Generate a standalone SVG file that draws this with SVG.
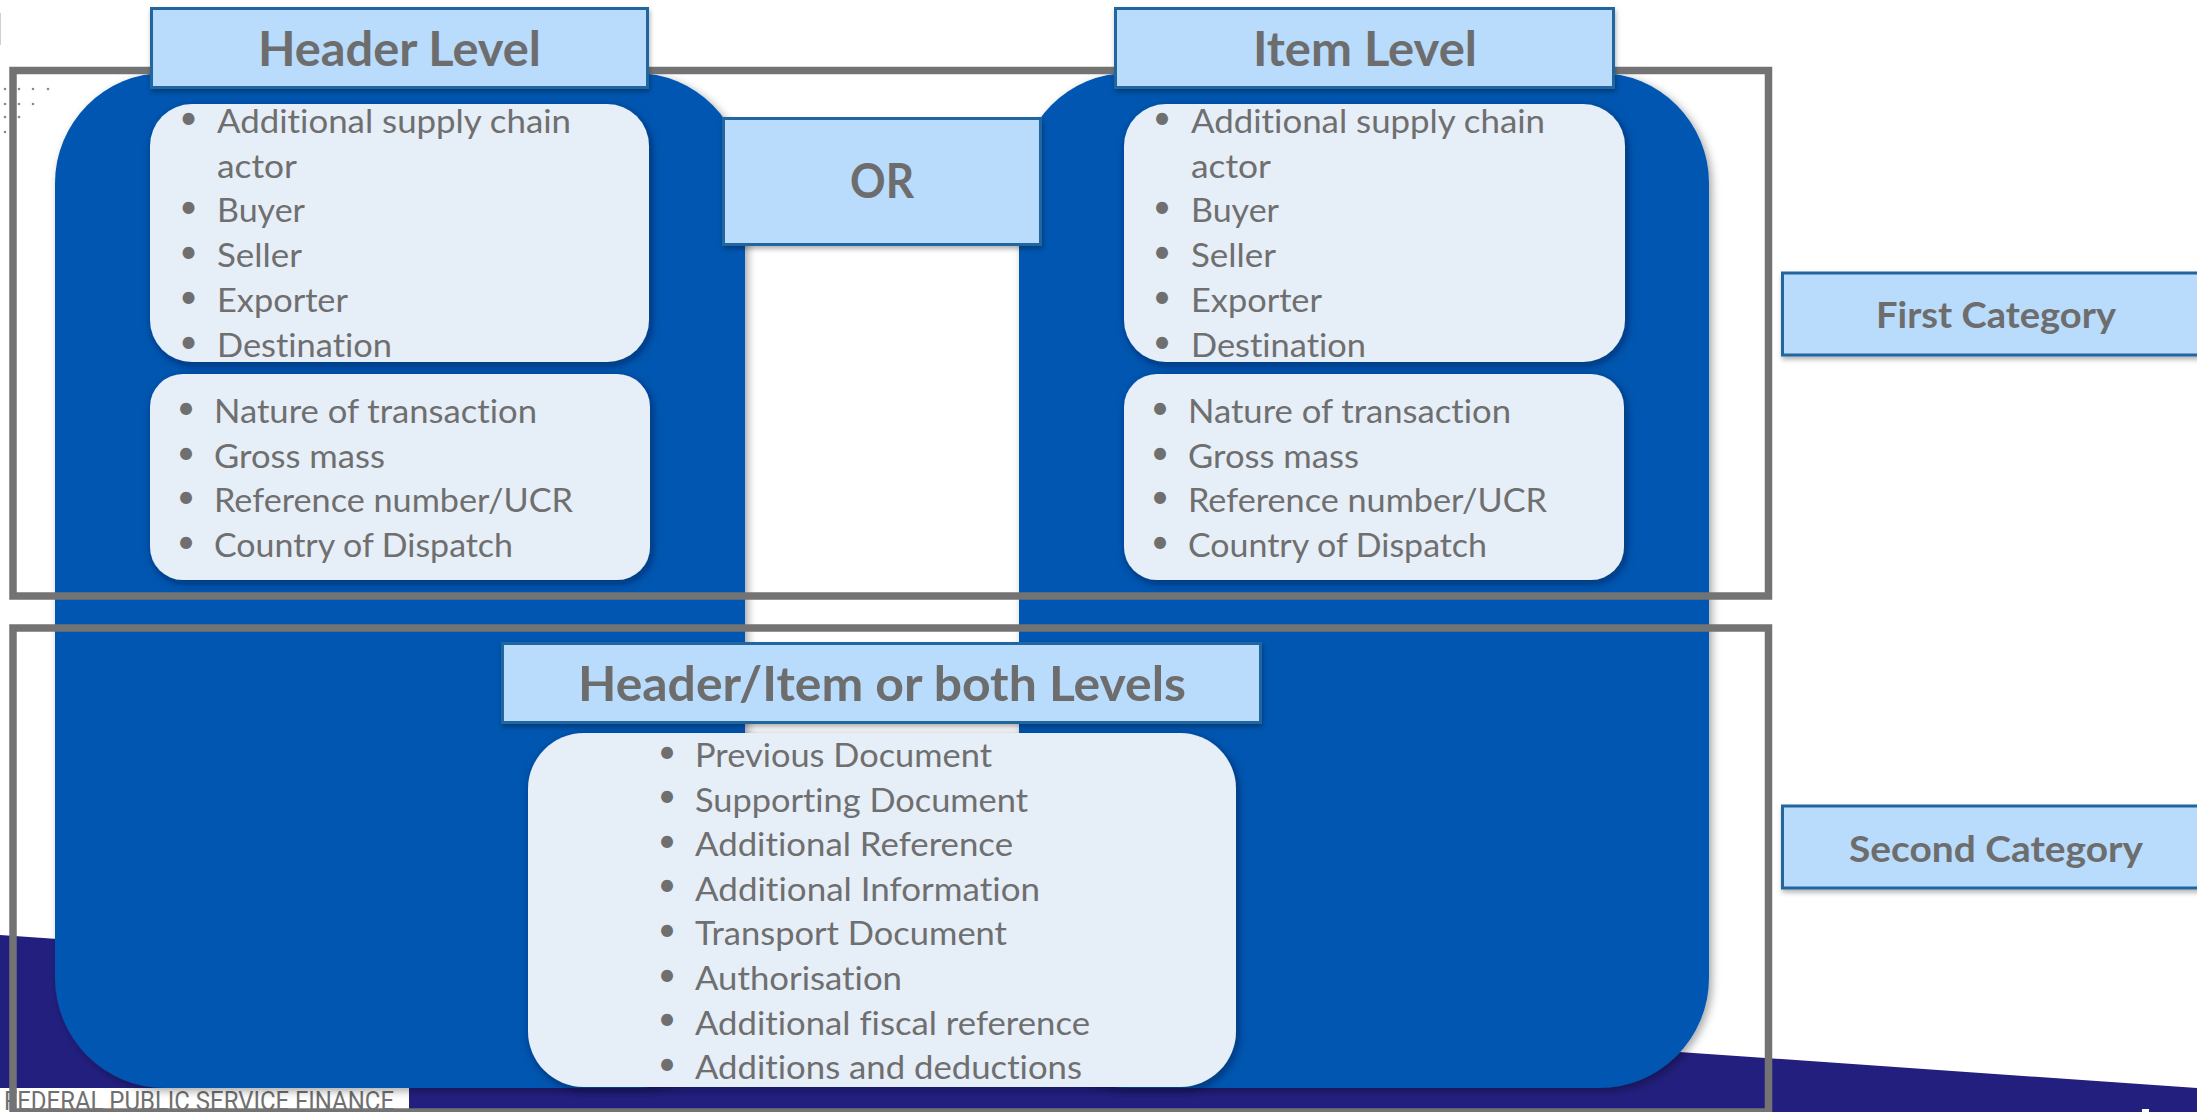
<svg xmlns="http://www.w3.org/2000/svg" width="2197" height="1112" viewBox="0 0 2197 1112">
  <style>
    text { font-variant-ligatures: none; }
    .blue { fill: #0457b0; }
    .list { fill: #e6eef8; }
    .hbox { fill: #b9dbfc; stroke: #2466a0; stroke-width: 3; }
    .frame { fill: none; stroke: #737373; stroke-width: 7.5; }
    .li { font-family: Lato, "Open Sans", sans-serif; font-size: 32px; fill: #6f6f6f; }
    .bul { font-family: Lato, "Open Sans", sans-serif; font-size: 32px; fill: #6f6f6f; text-anchor: middle; }
    .hd { font-family: Lato, "Open Sans", sans-serif; font-weight: bold; font-size: 47px; fill: #6d6d6d; text-anchor: middle; }
    .cat { font-family: Lato, "Open Sans", sans-serif; font-weight: bold; font-size: 36px; fill: #6d6d6d; text-anchor: middle; }
    .foot { font-family: Roboto, "Liberation Sans", sans-serif; font-size: 26px; fill: #707070; }
    .dot { fill: #8a8a8a; }
  </style>
  <defs>
    <filter id="shBlue" x="-5%" y="-5%" width="110%" height="110%">
      <feDropShadow dx="3" dy="3" stdDeviation="4" flood-color="#000" flood-opacity="0.35"/>
    </filter>
    <filter id="shList" x="-10%" y="-10%" width="120%" height="125%">
      <feDropShadow dx="2" dy="3" stdDeviation="4" flood-color="#00163a" flood-opacity="0.55"/>
    </filter>
    <filter id="shBox" x="-5%" y="-10%" width="110%" height="130%">
      <feDropShadow dx="1" dy="3" stdDeviation="2.5" flood-color="#000" flood-opacity="0.3"/>
    </filter>
  </defs>

  <rect x="0" y="0" width="2197" height="1112" fill="#ffffff"/>

  <!-- decorative background -->
  <g id="background">
    <line x1="0.5" y1="13" x2="0.5" y2="45" stroke="#d0d0d0" stroke-width="1"/>
    <circle class="dot" cx="5" cy="89" r="1.3"/>
    <circle class="dot" cx="19" cy="89" r="1.3"/>
    <circle class="dot" cx="33" cy="89" r="1.3"/>
    <circle class="dot" cx="48" cy="89" r="1.3"/>
    <circle class="dot" cx="5" cy="104" r="1.3"/>
    <circle class="dot" cx="19" cy="104" r="1.3"/>
    <circle class="dot" cx="33" cy="104" r="1.3"/>
    <circle class="dot" cx="5" cy="117" r="1.3"/>
    <circle class="dot" cx="19" cy="117" r="1.3"/>
    <circle class="dot" cx="5" cy="132" r="1.3"/>
    <polygon points="0,935 2197,1088 2197,1112 0,1112" fill="#231f7e"/>
    <rect x="2142" y="1109" width="7" height="3" fill="#ffffff"/>
    <rect x="0" y="1088" width="409" height="24" fill="#ffffff"/>
    <text class="foot" x="4" y="1110" textLength="390" lengthAdjust="spacingAndGlyphs">FEDERAL PUBLIC SERVICE FINANCE</text>
  </g>

  <!-- blue columns -->
  <g id="header-column">
    <rect class="blue" x="55" y="73" width="690" height="1015" rx="110" ry="110" filter="url(#shBlue)"/>
  </g>
  <g id="item-column">
    <rect class="blue" x="1019" y="73" width="690" height="1015" rx="110" ry="110" filter="url(#shBlue)"/>
  </g>

  <!-- category frames -->
  <g id="first-category-frame">
    <rect class="frame" x="13" y="70.5" width="1755.5" height="525.5"/>
  </g>
  <g id="second-category-frame">
    <rect class="frame" x="13" y="628" width="1755.5" height="484"/>
  </g>

  <!-- Header Level -->
  <g id="header-level">
    <rect class="hbox" x="151.5" y="8.5" width="496" height="79" filter="url(#shBox)"/>
    <text class="hd" x="399.5" y="66" textLength="283" lengthAdjust="spacingAndGlyphs">Header Level</text>
  </g>
  <g id="header-list-1">
    <rect class="list" x="150" y="104" width="499" height="258" rx="42" ry="42" filter="url(#shList)"/>
    <text class="bul" x="188.5" y="129">•</text>
    <text class="li" x="217" y="133" textLength="354" lengthAdjust="spacingAndGlyphs">Additional supply chain</text>
    <text class="li" x="217" y="178" textLength="80" lengthAdjust="spacingAndGlyphs">actor</text>
    <text class="bul" x="188.5" y="218">•</text>
    <text class="li" x="217" y="222" textLength="88" lengthAdjust="spacingAndGlyphs">Buyer</text>
    <text class="bul" x="188.5" y="263">•</text>
    <text class="li" x="217" y="267" textLength="85" lengthAdjust="spacingAndGlyphs">Seller</text>
    <text class="bul" x="188.5" y="308">•</text>
    <text class="li" x="217" y="312" textLength="131" lengthAdjust="spacingAndGlyphs">Exporter</text>
    <text class="bul" x="188.5" y="353">•</text>
    <text class="li" x="217" y="357" textLength="175" lengthAdjust="spacingAndGlyphs">Destination</text>
  </g>
  <g id="header-list-2">
    <rect class="list" x="150" y="374" width="500" height="206" rx="33" ry="33" filter="url(#shList)"/>
    <text class="bul" x="186" y="419">•</text>
    <text class="li" x="214" y="423" textLength="323" lengthAdjust="spacingAndGlyphs">Nature of transaction</text>
    <text class="bul" x="186" y="464">•</text>
    <text class="li" x="214" y="467.7" textLength="171" lengthAdjust="spacingAndGlyphs">Gross mass</text>
    <text class="bul" x="186" y="508">•</text>
    <text class="li" x="214" y="512.4" textLength="359" lengthAdjust="spacingAndGlyphs">Reference number/UCR</text>
    <text class="bul" x="186" y="553">•</text>
    <text class="li" x="214" y="557" textLength="299" lengthAdjust="spacingAndGlyphs">Country of Dispatch</text>
  </g>

  <!-- Item Level -->
  <g id="item-level">
    <rect class="hbox" x="1115.5" y="8.5" width="498" height="79" filter="url(#shBox)"/>
    <text class="hd" x="1365" y="66" textLength="224" lengthAdjust="spacingAndGlyphs">Item Level</text>
  </g>
  <g id="item-list-1">
    <rect class="list" x="1124" y="104" width="501" height="258" rx="42" ry="42" filter="url(#shList)"/>
    <text class="bul" x="1162" y="129">•</text>
    <text class="li" x="1191" y="133" textLength="354" lengthAdjust="spacingAndGlyphs">Additional supply chain</text>
    <text class="li" x="1191" y="178" textLength="80" lengthAdjust="spacingAndGlyphs">actor</text>
    <text class="bul" x="1162" y="218">•</text>
    <text class="li" x="1191" y="222" textLength="88" lengthAdjust="spacingAndGlyphs">Buyer</text>
    <text class="bul" x="1162" y="263">•</text>
    <text class="li" x="1191" y="267" textLength="85" lengthAdjust="spacingAndGlyphs">Seller</text>
    <text class="bul" x="1162" y="308">•</text>
    <text class="li" x="1191" y="312" textLength="131" lengthAdjust="spacingAndGlyphs">Exporter</text>
    <text class="bul" x="1162" y="353">•</text>
    <text class="li" x="1191" y="357" textLength="175" lengthAdjust="spacingAndGlyphs">Destination</text>
  </g>
  <g id="item-list-2">
    <rect class="list" x="1124" y="374" width="500" height="206" rx="33" ry="33" filter="url(#shList)"/>
    <text class="bul" x="1160" y="419">•</text>
    <text class="li" x="1188" y="423" textLength="323" lengthAdjust="spacingAndGlyphs">Nature of transaction</text>
    <text class="bul" x="1160" y="464">•</text>
    <text class="li" x="1188" y="467.7" textLength="171" lengthAdjust="spacingAndGlyphs">Gross mass</text>
    <text class="bul" x="1160" y="508">•</text>
    <text class="li" x="1188" y="512.4" textLength="359" lengthAdjust="spacingAndGlyphs">Reference number/UCR</text>
    <text class="bul" x="1160" y="553">•</text>
    <text class="li" x="1188" y="557" textLength="299" lengthAdjust="spacingAndGlyphs">Country of Dispatch</text>
  </g>

  <!-- OR -->
  <g id="or">
    <rect class="hbox" x="723.5" y="118.5" width="317" height="126" filter="url(#shBox)"/>
    <text class="hd" x="882" y="198" font-size="46" textLength="64" lengthAdjust="spacingAndGlyphs">OR</text>
  </g>

  <!-- Header/Item or both Levels -->
  <g id="header-item-both">
    <rect class="hbox" x="502.5" y="643.5" width="758" height="79" filter="url(#shBox)"/>
    <text class="hd" x="882" y="701" textLength="608" lengthAdjust="spacingAndGlyphs">Header/Item or both Levels</text>
  </g>
  <g id="both-list">
    <rect class="list" x="528" y="733" width="708" height="354" rx="56" ry="56" filter="url(#shList)"/>
    <text class="bul" x="667" y="763">•</text>
    <text class="li" x="695" y="767" textLength="297" lengthAdjust="spacingAndGlyphs">Previous Document</text>
    <text class="bul" x="667" y="807">•</text>
    <text class="li" x="695" y="811.6" textLength="333" lengthAdjust="spacingAndGlyphs">Supporting Document</text>
    <text class="bul" x="667" y="852">•</text>
    <text class="li" x="695" y="856.2" textLength="318" lengthAdjust="spacingAndGlyphs">Additional Reference</text>
    <text class="bul" x="667" y="896">•</text>
    <text class="li" x="695" y="900.8" textLength="345" lengthAdjust="spacingAndGlyphs">Additional Information</text>
    <text class="bul" x="667" y="941">•</text>
    <text class="li" x="695" y="945.4" textLength="312" lengthAdjust="spacingAndGlyphs">Transport Document</text>
    <text class="bul" x="667" y="986">•</text>
    <text class="li" x="695" y="990" textLength="207" lengthAdjust="spacingAndGlyphs">Authorisation</text>
    <text class="bul" x="667" y="1030">•</text>
    <text class="li" x="695" y="1034.6" textLength="395" lengthAdjust="spacingAndGlyphs">Additional fiscal reference</text>
    <text class="bul" x="667" y="1075">•</text>
    <text class="li" x="695" y="1079.2" textLength="387" lengthAdjust="spacingAndGlyphs">Additions and deductions</text>
  </g>

  <!-- Category labels -->
  <g id="first-category">
    <rect class="hbox" x="1782.5" y="273" width="450" height="82" filter="url(#shBox)"/>
    <text class="cat" x="1996" y="328" textLength="240" lengthAdjust="spacingAndGlyphs">First Category</text>
  </g>
  <g id="second-category">
    <rect class="hbox" x="1782.5" y="806" width="450" height="82" filter="url(#shBox)"/>
    <text class="cat" x="1996" y="862" textLength="294" lengthAdjust="spacingAndGlyphs">Second Category</text>
  </g>

  <g id="connectors"></g>
</svg>
